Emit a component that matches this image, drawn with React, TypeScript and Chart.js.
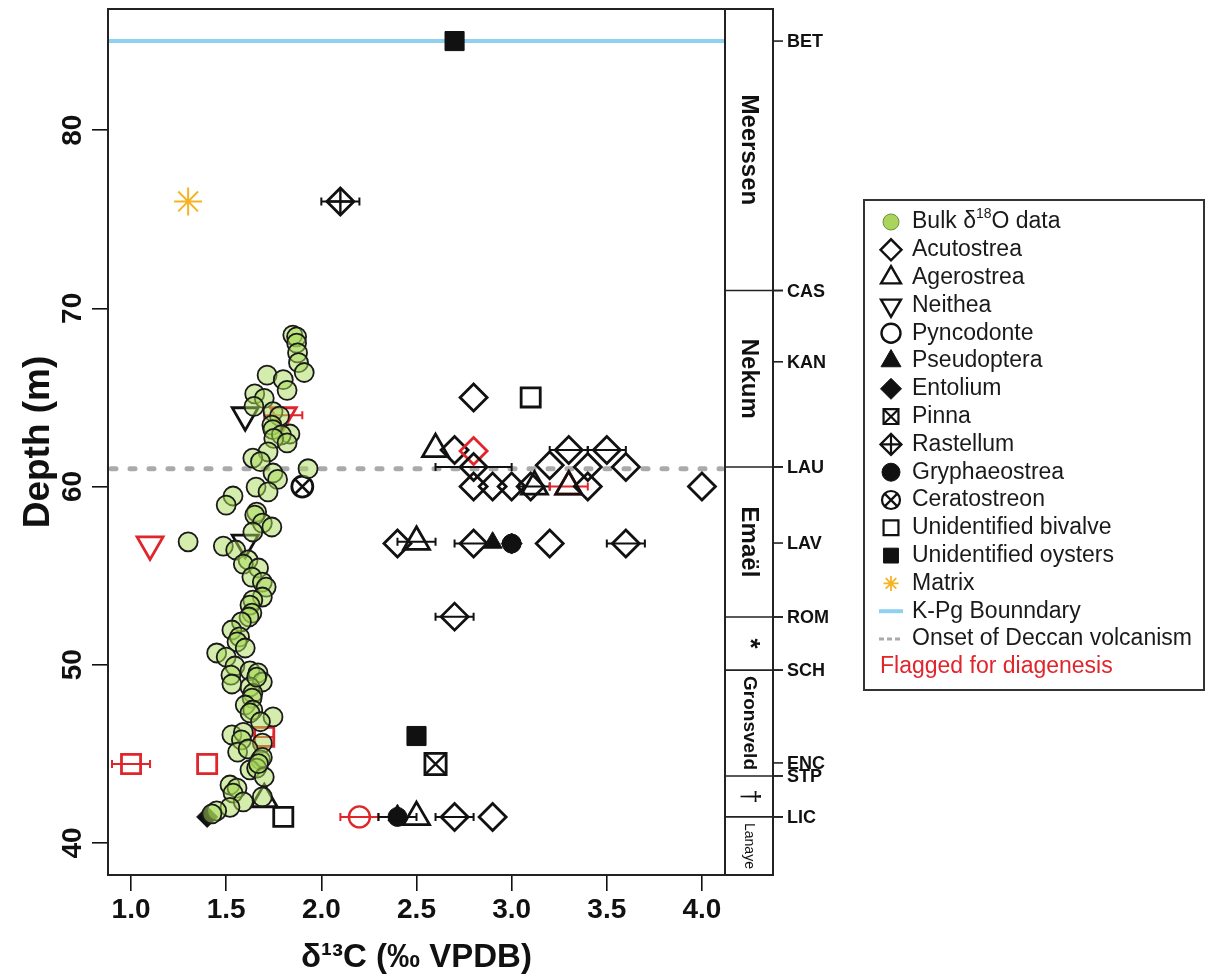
import React, { useEffect, useRef } from 'react';
import { Chart, registerables } from 'chart.js';
import { drawPoint } from 'chart.js/helpers';

Chart.register(...registerables);

const FONT = "'Liberation Sans', Arial, Helvetica, sans-serif";
const RED = '#e0252b';
const BLACK = '#111111';

// ---------- axes ----------
const xMin = 0.879;
const xMax = 4.121;
const yMin = 38.2;
const yMax = 86.8;
const xStep = 0.5;
const yStep = 10;

// ---------- reference lines ----------
const kpgDepth = 85;
const deccanDepth = 61;

// ---------- bulk data ----------
const bulkX = [1.85, 1.87, 1.87, 1.875, 1.88, 1.91, 1.715, 1.80, 1.82, 1.65, 1.70, 1.646, 1.746, 1.78, 1.74, 1.745, 1.835, 1.79, 1.75, 1.82, 1.72, 1.64, 1.68, 1.93, 1.746, 1.77, 1.657, 1.72, 1.536, 1.50,
  1.66, 1.65, 1.69, 1.74, 1.64, 1.30, 1.485, 1.55, 1.615, 1.59, 1.67, 1.635, 1.69, 1.71, 1.69, 1.64, 1.625, 1.635, 1.62, 1.58, 1.53, 1.57, 1.557, 1.60, 1.45, 1.50, 1.546, 1.525, 1.625, 1.667, 1.69, 1.53, 1.625, 1.64, 1.66,
  1.636, 1.60, 1.64, 1.625, 1.746, 1.68, 1.53, 1.59, 1.58, 1.69, 1.56, 1.615, 1.68, 1.69, 1.625, 1.66, 1.70, 1.52, 1.557, 1.536, 1.59, 1.52, 1.69, 1.45, 1.425, 1.67];
const bulkY = [68.5, 68.4, 68.05, 67.5, 66.95, 66.4, 66.25, 66.0, 65.4, 65.2, 64.95, 64.5, 64.2, 63.95, 63.45, 63.2, 62.95, 62.9, 62.7, 62.45, 61.95, 61.6, 61.4, 61.0, 60.76, 60.4, 59.97, 59.7, 59.47, 58.96,
  58.57, 58.4, 57.95, 57.73, 57.45, 56.9, 56.66, 56.44, 55.88, 55.65, 55.43, 54.92, 54.64, 54.36, 53.8, 53.63, 53.35, 52.9, 52.68, 52.4, 51.95, 51.56, 51.28, 50.94, 50.66, 50.43, 49.93, 49.42, 49.65, 49.54, 49.03, 48.92, 48.75, 48.4, 49.3,
  48.13, 47.74, 47.46, 47.3, 47.07, 46.8, 46.06, 46.2, 45.78, 45.6, 45.1, 45.27, 44.66, 44.8, 44.1, 44.2, 43.7, 43.25, 43.08, 42.8, 42.3, 42.0, 42.58, 41.8, 41.63, 44.45];

// ---------- species ----------
const acutoX = [2.8, 2.7, 2.8, 2.8, 3.2, 3.3, 3.4, 3.5, 3.6, 2.8, 2.9, 3.0, 3.1, 3.4, 4.0, 2.4, 2.8, 3.2, 3.6, 2.7, 2.7, 2.9];
const acutoY = [65.0, 62.05, 62.0, 61.1, 61.2, 62.05, 61.1, 62.05, 61.1, 60.0, 60.0, 60.0, 60.0, 60.0, 60.0, 56.8, 56.8, 56.8, 56.8, 52.7, 41.46, 41.46];
const acutoFlag = [0, 0, 1, 0, 0, 0, 0, 0, 0, 0, 0, 0, 0, 0, 0, 0, 0, 0, 0, 0, 0, 0];
const acutoErr = [0, 0, 0, 0.2, 0, 0.1, 0, 0.1, 0, 0, 0, 0, 0, 0, 0, 0, 0.1, 0, 0.1, 0.1, 0.1, 0];

const agerX = [2.6, 3.12, 3.3, 3.3, 2.5, 1.7, 2.5];
const agerY = [62.1, 60.0, 60.0, 60.0, 56.9, 42.45, 41.45];
const agerFlag = [0, 0, 1, 0, 0, 0, 0];
const agerErr = [0, 0.08, 0.1, 0, 0.1, 0, 0];

const neithX = [1.6, 1.8, 1.6, 1.1];
const neithY = [64.0, 64.0, 56.85, 56.75];
const neithFlag = [0, 1, 0, 1];
const neithErr = [0, 0.1, 0, 0];

const pyncX = [2.2];
const pyncY = [41.46];
const pyncFlag = [1];
const pyncErr = [0.1];

const pseudoX = [2.9, 2.4];
const pseudoY = [56.85, 41.55];

const entoX = [3.0, 1.4];
const entoY = [56.8, 41.46];

const pinnaX = [2.6];
const pinnaY = [44.43];

const rastX = [2.1];
const rastY = [76.0];
const rastErr = [0.1];

const gryX = [3.0, 2.4];
const gryY = [56.8, 41.46];
const gryErr = [0, 0.1];

const ceratoX = [1.9];
const ceratoY = [60.0];

const bivX = [3.1, 1.8, 1.0, 1.4, 1.7];
const bivY = [65.0, 41.46, 44.43, 44.43, 45.95];
const bivFlag = [0, 0, 1, 1, 1];
const bivErr = [0, 0, 0.1, 0, 0.05];

const oysX = [2.7, 2.5];
const oysY = [85.0, 46.0];

const matX = [1.3];
const matY = [76.0];

// ---------- stratigraphy ----------
const formationBounds = [86.8, 71, 61.1, 52.68, 49.7, 43.76, 41.46, 38.2];
const formationNames = ['Meerssen', 'Nekum', 'Emaël', '*', 'Gronsveld', '†', 'Lanaye'];
const horizonNames = ['BET', 'CAS', 'KAN', 'LAU', 'LAV', 'ROM', 'SCH', 'ENC', 'STP', 'LIC'];
const horizonDepths = [85, 71, 67, 61.1, 56.83, 52.68, 49.7, 44.49, 43.76, 41.46];

// ---------- legend ----------
const legendLabels = ['Bulk δ18O data', 'Acutostrea', 'Agerostrea', 'Neithea', 'Pyncodonte', 'Pseudoptera', 'Entolium', 'Pinna', 'Rastellum', 'Gryphaeostrea', 'Ceratostreon', 'Unidentified bivalve', 'Unidentified oysters', 'Matrix', 'K-Pg Bounndary', 'Onset of Deccan volcanism', 'Flagged for diagenesis'];

const GREEN_FILL = 'rgba(170,220,90,0.5)';
const NONE = 'rgba(0,0,0,0)';

const pts = (xs: number[], ys: number[]) => xs.map((x, i) => ({ x, y: ys[i] }));
const colorBy = (flags: number[] | undefined, n: number) =>
  Array.from({ length: n }, (_, i) => (flags && flags[i] ? RED : BLACK));

function marker(label: string, xs: number[], ys: number[], style: any, flags?: number[], xerr?: number[], filled = false) {
  const col = colorBy(flags, xs.length);
  return {
    label,
    data: pts(xs, ys),
    pointStyle: style.pointStyle,
    rotation: style.rotation || 0,
    pointRadius: style.radius,
    pointBorderWidth: style.lw,
    pointBorderColor: style.color || col,
    pointBackgroundColor: filled ? col : NONE,
    flags,
    xerr,
    clip: false,
  };
}

const datasets: any[] = [
  {
    label: 'Bulk',
    data: pts(bulkX, bulkY),
    pointStyle: 'circle',
    pointRadius: 9.5,
    pointBorderWidth: 1.8,
    pointBorderColor: '#1a1a1a',
    pointBackgroundColor: GREEN_FILL,
    clip: false,
  },
  marker('RastellumCross', rastX, rastY, { pointStyle: 'cross', radius: 13.5, lw: 2.4 }),
  marker('Rastellum', rastX, rastY, { pointStyle: 'rectRot', radius: 13.5, lw: 2.8 }, undefined, rastErr),
  marker('PinnaX', pinnaX, pinnaY, { pointStyle: 'crossRot', radius: 15, lw: 2.4 }),
  marker('Pinna', pinnaX, pinnaY, { pointStyle: 'rect', radius: 15, lw: 2.8 }),
  marker('CeratoX', ceratoX, ceratoY, { pointStyle: 'crossRot', radius: 10.5, lw: 2.6 }),
  marker('Ceratostreon', ceratoX, ceratoY, { pointStyle: 'circle', radius: 10.5, lw: 2.8 }),
  marker('Acutostrea', acutoX, acutoY, { pointStyle: 'rectRot', radius: 13.5, lw: 2.8 }, acutoFlag, acutoErr),
  marker('Agerostrea', agerX, agerY, { pointStyle: 'triangle', radius: 15, lw: 2.8 }, agerFlag, agerErr),
  marker('Neithea', neithX, neithY, { pointStyle: 'triangle', rotation: 180, radius: 15, lw: 2.8 }, neithFlag, neithErr),
  marker('Pyncodonte', pyncX, pyncY, { pointStyle: 'circle', radius: 10.5, lw: 2.4 }, pyncFlag, pyncErr),
  marker('Pseudoptera', pseudoX, pseudoY, { pointStyle: 'triangle', radius: 11, lw: 1 }, undefined, undefined, true),
  marker('Entolium', entoX, entoY, { pointStyle: 'rectRot', radius: 10.5, lw: 1 }, undefined, undefined, true),
  marker('Gryphaeostrea', gryX, gryY, { pointStyle: 'circle', radius: 9.5, lw: 1 }, undefined, gryErr, true),
  marker('Unidentified bivalve', bivX, bivY, { pointStyle: 'rect', radius: 13.5, lw: 2.8 }, bivFlag, bivErr),
  marker('Unidentified oysters', oysX, oysY, { pointStyle: 'rect', radius: 13.5, lw: 1 }, undefined, undefined, true),
  marker('Matrix', matX, matY, { pointStyle: 'star', radius: 14, lw: 2, color: '#f5b324' }),
];

// ---------- plugins ----------
const refLinesPlugin = {
  id: 'refLines',
  beforeDatasetsDraw(chart: any) {
    const { ctx, chartArea: a, scales } = chart;
    ctx.save();
    const yk = scales.y.getPixelForValue(kpgDepth);
    ctx.strokeStyle = '#8fd1ef';
    ctx.lineWidth = 4;
    ctx.beginPath();
    ctx.moveTo(a.left, yk);
    ctx.lineTo(a.right, yk);
    ctx.stroke();
    const yd = scales.y.getPixelForValue(deccanDepth);
    ctx.strokeStyle = '#aaaaaa';
    ctx.lineWidth = 5;
    ctx.lineCap = 'round';
    ctx.setLineDash([5, 14]);
    ctx.beginPath();
    ctx.moveTo(a.left + 3, yd);
    ctx.lineTo(a.right - 3, yd);
    ctx.stroke();
    ctx.restore();
  },
};

const errorBarPlugin = {
  id: 'errBars',
  beforeDatasetsDraw(chart: any) {
    const { ctx, scales } = chart;
    chart.data.datasets.forEach((d: any) => {
      if (!d.xerr) return;
      d.data.forEach((p: any, i: number) => {
        const e = d.xerr[i];
        if (!e) return;
        const x1 = scales.x.getPixelForValue(p.x - e);
        const x2 = scales.x.getPixelForValue(p.x + e);
        const y = scales.y.getPixelForValue(p.y);
        ctx.save();
        ctx.strokeStyle = d.flags && d.flags[i] ? RED : BLACK;
        ctx.lineWidth = 2;
        ctx.beginPath();
        ctx.moveTo(x1, y);
        ctx.lineTo(x2, y);
        ctx.moveTo(x1, y - 4);
        ctx.lineTo(x1, y + 4);
        ctx.moveTo(x2, y - 4);
        ctx.lineTo(x2, y + 4);
        ctx.stroke();
        ctx.restore();
      });
    });
  },
};

const formationFonts = ['bold 24px', 'bold 24px', 'bold 24px', 'bold 26px', 'bold 19px', '26px', '14px'];

const stratPlugin = {
  id: 'strat',
  afterDraw(chart: any) {
    const { ctx, chartArea: a, scales } = chart;
    const ys = scales.y;
    ctx.save();
    // frame
    ctx.strokeStyle = '#222';
    ctx.lineWidth = 2;
    ctx.strokeRect(a.left, a.top, a.right - a.left, a.bottom - a.top);
    // column
    const cl = a.right;
    const cr = a.right + 48;
    ctx.strokeRect(cl, a.top, cr - cl, a.bottom - a.top);
    ctx.lineWidth = 1.6;
    for (let i = 1; i < formationBounds.length - 1; i++) {
      const y = ys.getPixelForValue(formationBounds[i]);
      ctx.beginPath();
      ctx.moveTo(cl, y);
      ctx.lineTo(cr + 10, y);
      ctx.stroke();
    }
    ctx.fillStyle = '#111';
    ctx.font = `bold 18px ${FONT}`;
    ctx.textAlign = 'left';
    ctx.textBaseline = 'middle';
    horizonNames.forEach((n, i) => {
      const y = ys.getPixelForValue(horizonDepths[i]);
      ctx.beginPath();
      ctx.moveTo(cr, y);
      ctx.lineTo(cr + 10, y);
      ctx.stroke();
      ctx.fillText(n, cr + 14, y + 1);
    });
    formationNames.forEach((n, i) => {
      const y = ys.getPixelForValue((formationBounds[i] + formationBounds[i + 1]) / 2);
      ctx.save();
      ctx.translate((cl + cr) / 2, y);
      ctx.rotate(Math.PI / 2);
      ctx.font = `${formationFonts[i]} ${FONT}`;
      ctx.textAlign = 'center';
      ctx.textBaseline = 'middle';
      ctx.fillText(n, 0, 0);
      ctx.restore();
    });
    ctx.restore();
  },
};

const legendMarkers: any[] = [
  { s: 'circle', r: 8, fill: '#a9d55c', stroke: '#6f8f3c', lw: 1 },
  { s: 'rectRot', r: 10.5, lw: 2.4 },
  { s: 'triangle', r: 11.5, lw: 2.4 },
  { s: 'triangle', r: 11.5, lw: 2.4, rot: 180 },
  { s: 'circle', r: 9.5, lw: 2.4 },
  { s: 'triangle', r: 11.5, lw: 1, filled: true },
  { s: 'rectRot', r: 10.5, lw: 1, filled: true },
  { s: 'rect', r: 10.5, lw: 2.2, extra: 'crossRot' },
  { s: 'rectRot', r: 10.5, lw: 2.2, extra: 'cross' },
  { s: 'circle', r: 9, lw: 1, filled: true },
  { s: 'circle', r: 9, lw: 2.2, extra: 'crossRot' },
  { s: 'rect', r: 10.5, lw: 2.2 },
  { s: 'rect', r: 10.5, lw: 1, filled: true },
  { s: 'star', r: 7.5, lw: 1.8, stroke: '#f5b324' },
  { line: '#8fd1ef' },
  { line: '#aaaaaa', dash: true },
  { text: RED },
];

const legendPlugin = {
  id: 'legendBox',
  afterDraw(chart: any) {
    const { ctx } = chart;
    const bx = chart.width - 344;
    const by = 200;
    const bw = 340;
    const bh = 490;
    const rowH = 27.8;
    const mx = bx + 27;
    const tx = bx + 48;
    ctx.save();
    ctx.strokeStyle = '#333';
    ctx.lineWidth = 2;
    ctx.strokeRect(bx, by, bw, bh);
    ctx.textBaseline = 'middle';
    ctx.textAlign = 'left';
    legendLabels.forEach((lab, i) => {
      const y = by + 22 + i * rowH;
      const m = legendMarkers[i];
      ctx.save();
      if (m.line) {
        ctx.strokeStyle = m.line;
        ctx.lineWidth = m.dash ? 3 : 4;
        if (m.dash) ctx.setLineDash([5, 3]);
        ctx.beginPath();
        ctx.moveTo(mx - 12, y);
        ctx.lineTo(mx + 12, y);
        ctx.stroke();
      } else if (m.s) {
        const stroke = m.stroke || BLACK;
        ctx.strokeStyle = stroke;
        ctx.fillStyle = m.fill || (m.filled ? BLACK : NONE);
        ctx.lineWidth = m.lw;
        drawPoint(ctx, { pointStyle: m.s, radius: m.r, borderWidth: m.lw, rotation: m.rot || 0 } as any, mx, y);
        if (m.extra) {
          ctx.fillStyle = NONE;
          drawPoint(ctx, { pointStyle: m.extra, radius: m.r, borderWidth: m.lw, rotation: 0 } as any, mx, y);
        }
      }
      ctx.restore();
      ctx.font = `23px ${FONT}`;
      if (m.text) {
        ctx.fillStyle = m.text;
        ctx.fillText(lab, bx + 16, y);
        return;
      }
      ctx.fillStyle = '#1a1a1a';
      const mm = lab.match(/^(.*δ)(\d+)(.*)$/);
      if (mm) {
        ctx.fillText(mm[1], tx, y);
        let w = ctx.measureText(mm[1]).width;
        ctx.font = `14px ${FONT}`;
        ctx.fillText(mm[2], tx + w, y - 8);
        w += ctx.measureText(mm[2]).width;
        ctx.font = `23px ${FONT}`;
        ctx.fillText(mm[3], tx + w, y);
      } else {
        ctx.fillText(lab, tx, y);
      }
    });
    ctx.restore();
  },
};

export default function App() {
  const ref = useRef<HTMLCanvasElement>(null);
  useEffect(() => {
    if (!ref.current) return;
    const chart = new Chart(ref.current, {
      type: 'scatter',
      data: { datasets },
      options: {
        animation: false,
        responsive: false,
        events: [],
        layout: { autoPadding: false, padding: { left: 0, right: 483, top: 9, bottom: 0 } },
        plugins: { legend: { display: false }, tooltip: { enabled: false } },
        scales: {
          x: {
            type: 'linear',
            min: xMin,
            max: xMax,
            border: { display: false },
            grid: { drawOnChartArea: false, drawTicks: true, tickLength: 16, color: BLACK, lineWidth: 1.6 },
            ticks: {
              stepSize: xStep,
              includeBounds: false,
              autoSkip: false,
              minRotation: 0,
              maxRotation: 0,
              padding: 2,
              color: BLACK,
              font: { family: FONT, size: 28, weight: 'bold' },
              callback: (v: any) => Number(v).toFixed(1),
            },
            title: {
              display: true,
              text: 'δ¹³C (‰ VPDB)',
              color: BLACK,
              font: { family: FONT, size: 33, weight: 'bold', lineHeight: 1 },
              padding: { top: 0, bottom: 2 },
            },
            afterFit: (s: any) => { s.height = 101; s.paddingLeft = 0; s.paddingRight = 0; },
          },
          y: {
            type: 'linear',
            min: yMin,
            max: yMax,
            border: { display: false },
            grid: { drawOnChartArea: false, drawTicks: true, tickLength: 16, color: BLACK, lineWidth: 1.6 },
            ticks: {
              stepSize: yStep,
              includeBounds: false,
              minRotation: 90,
              maxRotation: 90,
              crossAlign: 'center',
              padding: 3,
              color: BLACK,
              font: { family: FONT, size: 28, weight: 'bold' },
              callback: (v: any) => String(v),
            },
            title: {
              display: true,
              text: 'Depth (m)',
              color: BLACK,
              font: { family: FONT, size: 37, weight: 'bold', lineHeight: 1 },
              padding: { top: 20, bottom: 0 },
            },
            afterFit: (s: any) => { s.width = 108; s.paddingTop = 0; s.paddingBottom = 0; },
          },
        },
      } as any,
      plugins: [refLinesPlugin, errorBarPlugin, stratPlugin, legendPlugin],
    });
    return () => chart.destroy();
  }, []);
  return (
    <div style={{ position: 'absolute', left: 0, top: 0, width: 1208, height: 976, background: '#fff' }}>
      <canvas ref={ref} width={1208} height={976} style={{ display: 'block', width: 1208, height: 976 }} />
    </div>
  );
}
